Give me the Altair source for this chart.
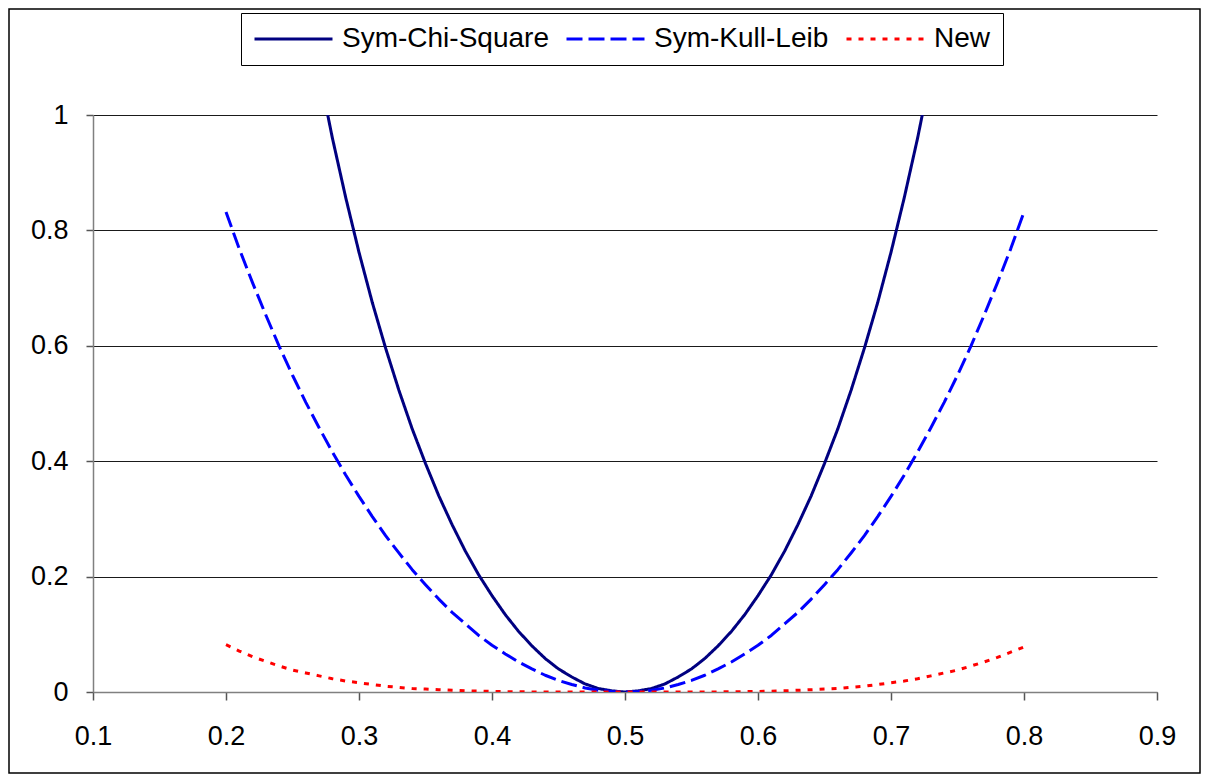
import altair as alt
import pandas as pd

# ---- data ----
x_values = [round(0.20 + 0.01 * i, 2) for i in range(61)]

sym_chi_square = [
    2.250, 2.028, 1.828, 1.647, 1.482, 1.333, 1.198, 1.074, 0.960, 0.857,
    0.762, 0.675, 0.596, 0.523, 0.456, 0.396, 0.340, 0.290, 0.244, 0.203,
    0.167, 0.134, 0.105, 0.080, 0.058, 0.040, 0.026, 0.014, 0.006, 0.002,
    0.000,
    0.002, 0.006, 0.014, 0.026, 0.040, 0.058, 0.080, 0.105, 0.134, 0.167,
    0.203, 0.244, 0.290, 0.340, 0.396, 0.456, 0.523, 0.596, 0.675, 0.762,
    0.857, 0.960, 1.074, 1.198, 1.333, 1.482, 1.647, 1.828, 2.028, 2.250,
]

sym_kull_leib = [
    0.832, 0.768, 0.709, 0.653, 0.599, 0.549, 0.502, 0.458, 0.416, 0.376,
    0.339, 0.304, 0.271, 0.241, 0.212, 0.186, 0.161, 0.138, 0.118, 0.098,
    0.081, 0.066, 0.052, 0.040, 0.029, 0.020, 0.013, 0.007, 0.003, 0.001,
    0.000,
    0.001, 0.003, 0.007, 0.013, 0.020, 0.029, 0.040, 0.052, 0.066, 0.081,
    0.098, 0.118, 0.138, 0.161, 0.186, 0.212, 0.241, 0.271, 0.304, 0.339,
    0.376, 0.416, 0.458, 0.502, 0.549, 0.599, 0.653, 0.709, 0.768, 0.832,
]

new_measure = [
    0.082, 0.071, 0.061, 0.053, 0.045, 0.038, 0.033, 0.028, 0.023, 0.019,
    0.016, 0.013, 0.010, 0.008, 0.006, 0.005, 0.004, 0.003, 0.002, 0.0015,
    0.001, 0.0007, 0.0004, 0.0002, 0.0001, 0.0001, 0.0, 0.0, 0.0, 0.0,
    0.0,
    0.0, 0.0, 0.0, 0.0, 0.0001, 0.0001, 0.0002, 0.0004, 0.0007, 0.001,
    0.0015, 0.002, 0.003, 0.004, 0.005, 0.006, 0.008, 0.010, 0.013, 0.016,
    0.019, 0.023, 0.028, 0.033, 0.038, 0.045, 0.052, 0.060, 0.069, 0.078,
]

series_names = ["Sym-Chi-Square", "Sym-Kull-Leib", "New"]
series_colors = ["#000080", "#0000FF", "#FF0000"]
series_dashes = [[1, 0], [16, 6], [5, 7]]

x_ticks = [0.1, 0.2, 0.3, 0.4, 0.5, 0.6, 0.7, 0.8, 0.9]
y_ticks = [0, 0.2, 0.4, 0.6, 0.8, 1.0]

rows = []
for name, vals in zip(series_names, [sym_chi_square, sym_kull_leib, new_measure]):
    for xv, yv in zip(x_values, vals):
        rows.append({"x": xv, "value": yv, "series": name})
df = pd.DataFrame(rows)

FONT = "Liberation Sans"

legend = alt.Legend(
    title=None, orient="none", legendX=148, legendY=-102,
    direction="horizontal", columns=3,
    symbolType="stroke", symbolSize=6084, symbolStrokeWidth=3,
    clipHeight=28, labelFont=FONT, labelFontSize=28, labelColor="black",
    labelLimit=400, labelOffset=8, columnPadding=16, padding=12,
    strokeColor="black",
)

lines = alt.Chart(df).mark_line(clip=True, strokeJoin="round", strokeWidth=3).encode(
    x=alt.X("x:Q",
            scale=alt.Scale(domain=[0.1, 0.9], nice=False, zero=False),
            axis=alt.Axis(values=x_ticks, format=".1f", title=None, grid=False,
                          tickSize=8, labelPadding=23, labelFlush=False)),
    y=alt.Y("value:Q",
            scale=alt.Scale(domain=[0, 1], nice=False),
            axis=alt.Axis(values=y_ticks, format=".1~f", title=None, grid=True,
                          tickSize=7, labelPadding=18, labelFlush=False)),
    color=alt.Color("series:N", sort=series_names,
                    scale=alt.Scale(domain=series_names, range=series_colors),
                    legend=legend),
    strokeDash=alt.StrokeDash("series:N", sort=series_names,
                              scale=alt.Scale(domain=series_names, range=series_dashes),
                              legend=legend),
)

border = alt.Chart(pd.DataFrame({"a": [0]})).mark_rect(
    fillOpacity=0, stroke="black", strokeWidth=1.5, clip=False
).encode(
    x=alt.value(-84), x2=alt.value(1107), y=alt.value(-106), y2=alt.value(658)
)

chart = alt.layer(border, lines).properties(
    width=1064, height=577,
    autosize=alt.AutoSizeParams(type="none"),
    padding={"left": 85, "top": 107, "right": 44, "bottom": 82},
    background="white",
).configure_view(stroke=None).configure_axis(
    labelFont=FONT, labelFontSize=27, labelColor="black",
    domainColor="#808080", domainWidth=1.5,
    tickColor="#555555", tickWidth=1.5,
    gridColor="#1a1a1a", gridWidth=1, gridOpacity=1,
)

chart.save("out.html", embed_options={"renderer": "svg", "actions": False})
